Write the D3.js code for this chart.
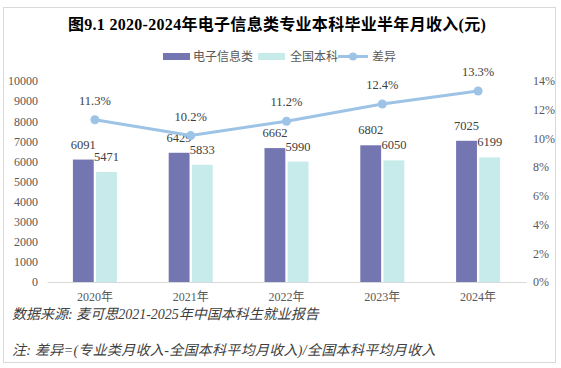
<!DOCTYPE html>
<html>
<head>
<meta charset="utf-8">
<script src="https://cdn.jsdelivr.net/npm/d3@7"></script>
<style>
  body { margin: 0; background: #fff; }
  svg text { font-family: "Liberation Serif", "Noto Sans CJK SC", serif; }
</style>
</head>
<body>
<script>
//chart data
var years = ["2020年", "2021年", "2022年", "2023年", "2024年"];
var seriesNames = ["电子信息类", "全国本科", "差异"];
var majorIncome = [6091, 6429, 6662, 6802, 7025];   //电子信息类
var nationalIncome = [5471, 5833, 5990, 6050, 6199]; //全国本科
var diffPct = [11.3, 10.2, 11.2, 12.4, 13.3];        //差异 (%)
var leftTicks = [0, 1000, 2000, 3000, 4000, 5000, 6000, 7000, 8000, 9000, 10000];
var rightTicks = [0, 2, 4, 6, 8, 10, 12, 14];

var titleText = "图9.1  2020-2024年电子信息类专业本科毕业半年月收入(元)";
var sourceText = "数据来源:  麦可思2021-2025年中国本科生就业报告";
var noteText = "注:  差异=(专业类月收入-全国本科平均月收入)/全国本科平均月收入";

//colours
var purple = "#7376b0",
    cyan = "#c6ebea",
    lineBlue = "#9dc3e6";

var width = 561, height = 368;

var svg = d3.select("body").append("svg")
    .attr("width", width)
    .attr("height", height);

//outer frame
svg.append("rect")
    .attr("x", 3.5).attr("y", 7.5)
    .attr("width", 552).attr("height", 355)
    .attr("fill", "#fff")
    .attr("stroke", "#d9d9d9")
    .attr("stroke-width", 1);

//scales
var x = d3.scaleBand().domain(years).range([47, 526]);
var xSub = d3.scaleBand().domain([0, 1]).range([-22, 22]).paddingInner(0.1);
var y = d3.scaleLinear().domain([0, 10000]).range([282, 81]);
var yR = d3.scaleLinear().domain([0, 14]).range([282, 81]);

//title
svg.append("text")
    .attr("x", 277).attr("y", 30)
    .attr("text-anchor", "middle")
    .attr("font-size", 16)
    .attr("font-weight", "bold")
    .attr("letter-spacing", 0.3)
    .attr("fill", "#000")
    .text(titleText);

//left axis
var leftAxis = svg.append("g")
    .attr("transform", "translate(47,0)")
    .call(d3.axisLeft(y).tickValues(leftTicks).tickSize(0).tickPadding(9).tickFormat(d3.format("d")));
leftAxis.select(".domain").remove();

//right axis
var rightAxis = svg.append("g")
    .attr("transform", "translate(526,0)")
    .call(d3.axisRight(yR).tickValues(rightTicks).tickSize(0).tickPadding(7).tickFormat(function(d){ return d + "%"; }));
rightAxis.select(".domain").remove();

//bottom axis
var bottomAxis = svg.append("g")
    .attr("transform", "translate(0,282)")
    .call(d3.axisBottom(x).tickSize(0).tickPadding(10));
bottomAxis.select(".domain")
    .attr("stroke", "#d9d9d9");

svg.selectAll(".tick text")
    .attr("font-size", 12)
    .attr("fill", "#595959")
    .style("font-family", "\"Liberation Serif\", \"Noto Sans CJK SC\", serif");

//bars
var rows = years.map(function(yr, i){
    return { year: yr, vals: [majorIncome[i], nationalIncome[i]] };
});

var groups = svg.selectAll(".grp")
    .data(rows)
    .enter()
    .append("g")
    .attr("class", "grp")
    .attr("transform", function(d){ return "translate(" + (x(d.year) + x.bandwidth() / 2) + ",0)"; });

groups.selectAll("rect")
    .data(function(d){ return d.vals; })
    .enter()
    .append("rect")
    .attr("x", function(d, i){ return xSub(i); })
    .attr("width", xSub.bandwidth())
    .attr("y", function(d){ return y(d); })
    .attr("height", function(d){ return y(0) - y(d); })
    .attr("fill", function(d, i){ return i == 0 ? purple : cyan; });

groups.selectAll(".vlabel")
    .data(function(d){ return d.vals; })
    .enter()
    .append("text")
    .attr("class", "vlabel")
    .attr("text-anchor", "middle")
    .attr("x", function(d, i){ return xSub(i) + xSub.bandwidth() / 2; })
    .attr("y", function(d){ return y(d) - 11; })
    .attr("font-size", 12.5)
    .attr("fill", "#404040")
    .text(function(d){ return d; });

//difference line
var line = d3.line()
    .x(function(d, i){ return x(years[i]) + x.bandwidth() / 2; })
    .y(function(d){ return yR(d); });

svg.append("path")
    .datum(diffPct)
    .attr("d", line)
    .attr("fill", "none")
    .attr("stroke", lineBlue)
    .attr("stroke-width", 3);

svg.selectAll(".dot")
    .data(diffPct)
    .enter()
    .append("circle")
    .attr("class", "dot")
    .attr("cx", function(d, i){ return x(years[i]) + x.bandwidth() / 2; })
    .attr("cy", function(d){ return yR(d); })
    .attr("r", 4.5)
    .attr("fill", lineBlue);

svg.selectAll(".plabel")
    .data(diffPct)
    .enter()
    .append("text")
    .attr("class", "plabel")
    .attr("text-anchor", "middle")
    .attr("x", function(d, i){ return x(years[i]) + x.bandwidth() / 2; })
    .attr("y", function(d){ return yR(d) - 15; })
    .attr("font-size", 12.5)
    .attr("fill", "#404040")
    .text(function(d){ return d.toFixed(1) + "%"; });

//legend
var legend = svg.append("g").attr("class", "legend");
var legendX = [163, 258, 338];
var legendTextX = [193, 290, 372];

legend.append("rect")
    .attr("x", legendX[0]).attr("y", 53).attr("width", 27).attr("height", 7)
    .attr("fill", purple);
legend.append("rect")
    .attr("x", legendX[1]).attr("y", 53).attr("width", 27).attr("height", 7)
    .attr("fill", cyan);
legend.append("line")
    .attr("x1", legendX[2]).attr("x2", legendX[2] + 30)
    .attr("y1", 56.5).attr("y2", 56.5)
    .attr("stroke", lineBlue).attr("stroke-width", 3);
legend.append("circle")
    .attr("cx", legendX[2] + 15).attr("cy", 56.5).attr("r", 4)
    .attr("fill", lineBlue);

legend.selectAll(".ltext")
    .data(seriesNames)
    .enter()
    .append("text")
    .attr("class", "ltext")
    .attr("x", function(d, i){ return legendTextX[i]; })
    .attr("y", 61)
    .attr("font-size", 12)
    .attr("fill", "#595959")
    .text(function(d){ return d; });

//footer notes
svg.append("text")
    .attr("x", 12).attr("y", 319)
    .attr("font-size", 14)
    .attr("font-style", "italic")
    .attr("fill", "#404040")
    .text(sourceText);

svg.append("text")
    .attr("x", 12).attr("y", 355)
    .attr("font-size", 14)
    .attr("font-style", "italic")
    .attr("letter-spacing", 0.3)
    .attr("fill", "#404040")
    .text(noteText);
</script>
</body>
</html>
